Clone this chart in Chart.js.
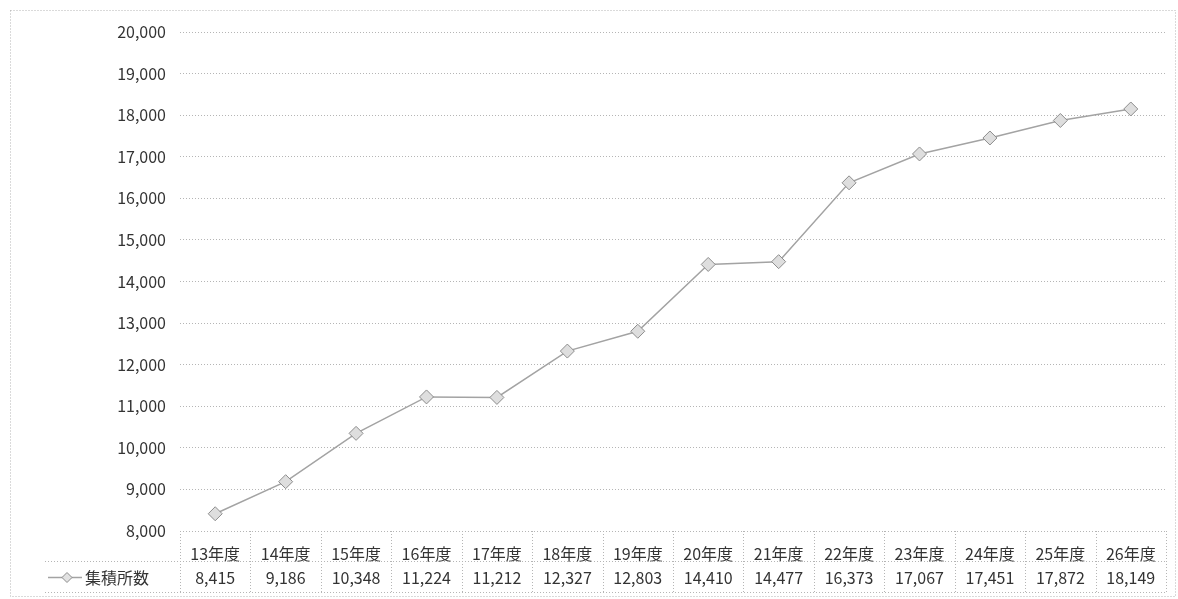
<!DOCTYPE html>
<html>
<head>
<meta charset="utf-8">
<script src="https://cdn.jsdelivr.net/npm/chart.js@4.4.1/dist/chart.umd.min.js"></script>
<style>
  html, body { margin: 0; padding: 0; background: #fff; }
  #wrap { width: 1178px; height: 599px; position: relative; }
</style>
</head>
<body>
<div id="wrap"><canvas id="c" width="1178" height="599"></canvas></div>
<script>
// data
const years = ['13年度', '14年度', '15年度', '16年度', '17年度', '18年度', '19年度',
  '20年度', '21年度', '22年度', '23年度', '24年度', '25年度', '26年度'];
const seriesName = '集積所数';
const counts = [8415, 9186, 10348, 11224, 11212, 12327, 12803, 14410, 14477, 16373, 17067, 17451, 17872, 18149];
const yMin = 8000;
const yMax = 20000;
const yStep = 1000;

const FONT = '"Noto Sans CJK JP", "Noto Sans", sans-serif';
const lineColor = '#a3a3a3';
const dotted = '#b5b5b5';

// draws the data table under the plot (grid + value row + legend key)
const dataTable = {
  id: 'dataTable',
  afterDraw(chart) {
    const ctx = chart.ctx;
    const x = chart.scales.x;
    const area = chart.chartArea;
    const row1 = area.bottom;
    const row2 = row1 + 30;
    const row3 = row2 + 31;
    const keyLeft = 45;

    ctx.save();
    ctx.strokeStyle = dotted;
    ctx.lineWidth = 1;
    ctx.setLineDash([1, 2]);

    // outer chart border
    ctx.strokeRect(10.5, 10.5, 1165, 586);

    ctx.beginPath();
    ctx.moveTo(keyLeft, row2 + 0.5); ctx.lineTo(area.right, row2 + 0.5);
    ctx.moveTo(keyLeft, row3 + 0.5); ctx.lineTo(area.right, row3 + 0.5);
    const w = (area.right - area.left) / years.length;
    for (let i = 0; i <= years.length; i++) {
      const px = Math.round(area.left + i * w) + 0.5;
      ctx.moveTo(px, row1); ctx.lineTo(px, row3);
    }
    ctx.stroke();
    ctx.setLineDash([]);

    // value row
    ctx.fillStyle = '#333';
    ctx.font = '16px ' + FONT;
    ctx.textAlign = 'center';
    ctx.textBaseline = 'middle';
    const cy = (row2 + row3) / 2 + 1;
    counts.forEach((v, i) => {
      ctx.fillText(v.toLocaleString('en-US'), x.getPixelForValue(i), cy);
    });

    // legend key
    ctx.strokeStyle = lineColor;
    ctx.lineWidth = 1.5;
    ctx.beginPath();
    ctx.moveTo(48, cy); ctx.lineTo(82, cy);
    ctx.stroke();
    ctx.beginPath();
    ctx.moveTo(67, cy - 5); ctx.lineTo(72, cy); ctx.lineTo(67, cy + 5); ctx.lineTo(62, cy);
    ctx.closePath();
    ctx.fillStyle = '#e2e2e2';
    ctx.fill();
    ctx.strokeStyle = '#8c8c8c';
    ctx.lineWidth = 1;
    ctx.stroke();
    ctx.fillStyle = '#333';
    ctx.textAlign = 'left';
    ctx.fillText(seriesName, 85, cy);
    ctx.restore();
  }
};

new Chart(document.getElementById('c'), {
  type: 'line',
  data: {
    labels: years,
    datasets: [{
      label: seriesName,
      data: counts,
      borderColor: lineColor,
      borderWidth: 1.5,
      pointStyle: 'rectRot',
      pointRadius: 7,
      pointBorderColor: '#8c8c8c',
      pointBackgroundColor: '#dedede',
      pointBorderWidth: 1,
      tension: 0
    }]
  },
  options: {
    responsive: false,
    animation: false,
    layout: { padding: { left: 10, right: 12, top: 32, bottom: 6 } },
    plugins: { legend: { display: false }, tooltip: { enabled: false } },
    scales: {
      x: {
        offset: true,
        grid: { display: false },
        border: { display: false },
        ticks: { color: '#333', font: { family: FONT, size: 16 }, padding: 5, maxRotation: 0, autoSkip: false },
        afterFit(s) { s.height = 62; }
      },
      y: {
        min: yMin,
        max: yMax,
        ticks: {
          stepSize: yStep,
          color: '#333',
          padding: 14,
          font: { family: FONT, size: 16 },
          callback: v => v.toLocaleString('en-US')
        },
        grid: { color: dotted, drawTicks: false, tickBorderDash: [1, 2] },
        border: { display: false, dash: [1, 2] },
        afterFit(s) { s.width = 170; }
      }
    }
  },
  plugins: [dataTable]
});
</script>
</body>
</html>
